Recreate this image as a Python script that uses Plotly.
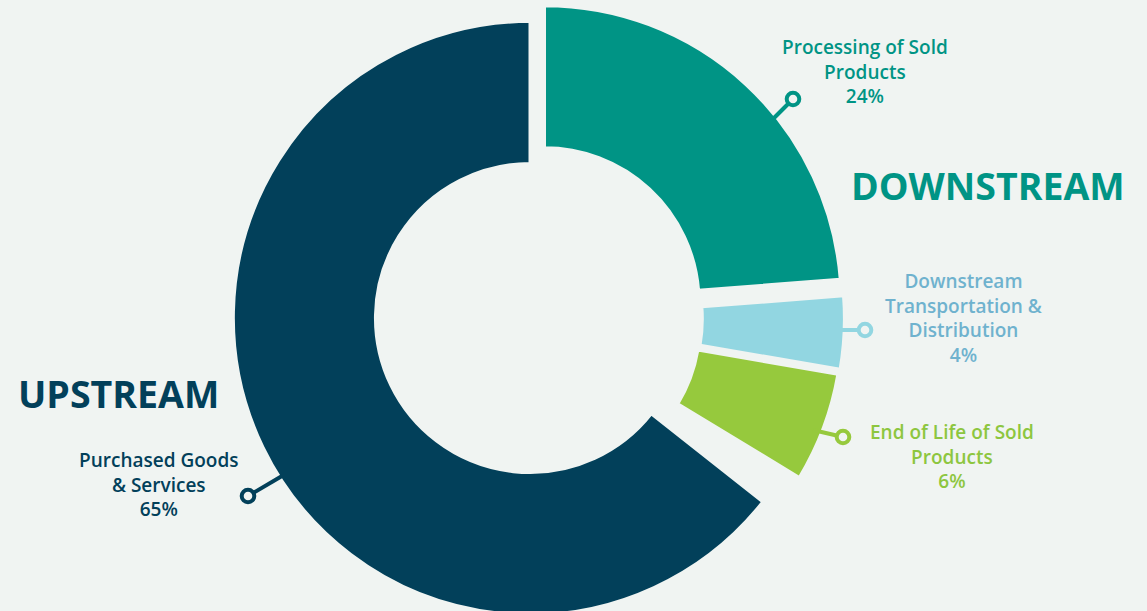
import plotly.graph_objects as go

# ---------------- data ----------------
categories = [
    "Processing of Sold Products",
    "Downstream Transportation & Distribution",
    "End of Life of Sold Products",
    "",
    "Purchased Goods & Services",
]
# slice sizes (the unlabelled gap between the
# green and the navy slice is kept as an invisible slice)
shares = [24, 4, 6, 2, 65]
percent_labels = ["24%", "4%", "6%", None, "65%"]
label_lines = [
    ["Processing of Sold", "Products"],
    ["Downstream", "Transportation &", "Distribution"],
    ["End of Life of Sold", "Products"],
    None,
    ["Purchased Goods", "& Services"],
]
group_titles = ["DOWNSTREAM", "UPSTREAM"]

# ---------------- style ----------------
W, H = 1147, 636
BG = "#F0F4F2"
slice_colors = ["#009485", "#92D6E1", "#96C93D", "rgba(0,0,0,0)", "#02405A"]
label_colors = ["#009485", "#6FB2CE", "#8DC63F", None, "#02405A"]
pulls = [0.072, 0.06, 0.056, 0, 0]
FONT = "Open Sans"
LABEL_SIZE = 19


def px(x):
    return x / W


def py(y):
    return 1 - y / H


cx = 530
half = 330

fig = go.Figure()
fig.add_trace(go.Pie(
    labels=categories,
    values=shares,
    sort=False,
    direction="clockwise",
    rotation=0,
    hole=0.521,
    pull=pulls,
    textinfo="none",
    hoverinfo="label",
    marker=dict(colors=slice_colors, line=dict(color=BG, width=3)),
    domain=dict(x=[px(cx - half), px(cx + half)], y=[0, 1]),
    showlegend=False,
))

# label placement (pixel centre of each text block) and leader lines
label_pos = [(865, 72), (963, 318), (951.5, 456.5), None, (158.5, 484)]
leaders = [((774, 118), (793, 99)), ((837, 330), (865, 330)),
           ((813, 430), (843, 437)), None, ((282, 476), (248, 496))]

annotations = []
shapes = []
for i, lines in enumerate(label_lines):
    if lines is None:
        continue
    lx, ly = label_pos[i]
    annotations.append(dict(
        x=px(lx), y=py(ly), xref="paper", yref="paper",
        text="<br>".join(lines + [percent_labels[i]]),
        showarrow=False, xanchor="center", yanchor="middle", align="center",
        font=dict(family=FONT, size=LABEL_SIZE, color=label_colors[i], weight=600),
    ))
    (x0, y0), (x1, y1) = leaders[i]
    lc = slice_colors[i]
    shapes.append(dict(type="line", xref="paper", yref="paper",
                       x0=px(x0), y0=py(y0), x1=px(x1), y1=py(y1),
                       line=dict(color=lc, width=4)))
    rr = 6.3
    shapes.append(dict(type="circle", xref="paper", yref="paper",
                       x0=px(x1 - rr), x1=px(x1 + rr), y0=py(y1 + rr), y1=py(y1 - rr),
                       fillcolor=BG, line=dict(color=lc, width=4)))

annotations.append(dict(x=px(987.5), y=py(185.5), xref="paper", yref="paper",
                        text=group_titles[0], showarrow=False,
                        xanchor="center", yanchor="middle",
                        font=dict(family=FONT, size=37.5, color="#009485", weight=700)))
annotations.append(dict(x=px(118.3), y=py(393), xref="paper", yref="paper",
                        text=group_titles[1], showarrow=False,
                        xanchor="center", yanchor="middle",
                        font=dict(family=FONT, size=37.5, color="#02405A", weight=700)))

fig.update_layout(
    width=W, height=H,
    margin=dict(l=0, r=0, t=0, b=0),
    paper_bgcolor=BG, plot_bgcolor=BG,
    annotations=annotations,
    shapes=shapes,
)

fig.write_html(
    "out.html",
    config={"displayModeBar": False},
    post_script="document.body.style.margin='0';document.body.style.overflow='hidden';document.documentElement.style.overflow='hidden';",
)
